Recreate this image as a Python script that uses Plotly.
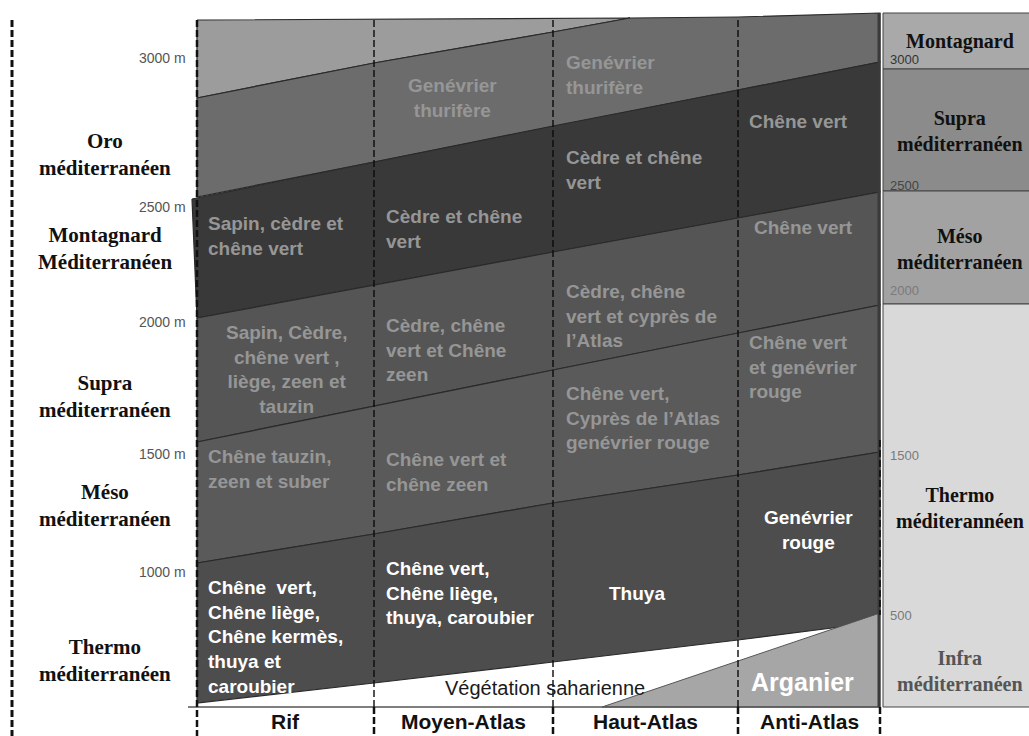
import plotly.graph_objects as go

# ---------------- data ----------------
regions = ["Rif", "Moyen-Atlas", "Haut-Atlas", "Anti-Atlas"]
col_edges = [197, 374, 553, 738, 880]

# belt boundary lines: y at each column edge (diagram units, top = 0)
top_edge = [20, 20, 19, 17, 13]
b_juniper_top = [98, 63, 32]           # top of "Genévrier thurifère" belt (meets top at x=630)
b_juniper_meet_x = 630
b_L2 = [197, 162, 126, 90, 62]
b_L3 = [318, 285, 252, 218, 192]
b_L4 = [442, 406, 370, 333, 305]
b_L5 = [563, 534, 503, 475, 452]
b_L6 = [703, 683, 662, 640]
b_L6_end = (840, 627)
argan_tri_x = [602, 880, 880]
argan_tri_y = [707, 613, 707]
base_y = 707

alt_labels = ["3000 m", "2500 m", "2000 m", "1500 m", "1000 m"]
alt_label_y = [58, 207, 322, 454, 572]

left_zones = ["Oro<br>méditerranéen", "Montagnard<br>Méditerranéen", "Supra<br>méditerranéen",
              "Méso<br>méditerranéen", "Thermo<br>méditerranéen"]
left_zone_y = [154, 248, 396, 505, 660]

right_zones = ["Montagnard", "Supra<br>méditerranéen", "Méso<br>méditerranéen",
               "Thermo<br>méditerannéen", "Infra<br>méditerranéen"]
right_zone_y = [41, 131, 249, 508, 671]
right_zone_colors = ["#111111", "#111111", "#111111", "#111111", "#555555"]
right_band_edges = [13, 69, 191, 304, 707]
right_band_fill = ["#a9a9a9", "#8b8b8b", "#a2a2a2", "#d9d9d9"]
right_nums = ["3000", "2500", "2000", "1500", "500"]
right_num_y = [59, 185, 290, 455, 615]
right_num_colors = ["#333333", "#444444", "#7a7a7a", "#7a7a7a", "#7a7a7a"]

# vegetation cells: text, x, y, anchor, colour key
cells = [
    ("Sapin, cèdre et<br>chêne vert", 206, 236, "left", "g"),
    ("Sapin, Cèdre,<br>chêne vert ,<br>liège, zeen et<br>tauzin", 286, 369, "center", "g"),
    ("Chêne tauzin,<br>zeen et suber", 206, 469, "left", "g"),
    ("Chêne  vert,<br>Chêne liège,<br>Chêne kermès,<br>thuya et<br>caroubier", 206, 637, "left", "w"),
    ("Genévrier<br>thurifère", 452, 98, "center", "g"),
    ("Cèdre et chêne<br>vert", 384, 229, "left", "g"),
    ("Cèdre, chêne<br>vert et Chêne<br>zeen", 384, 350, "left", "g"),
    ("Chêne vert et<br>chêne zeen", 384, 472, "left", "g"),
    ("Chêne vert,<br>Chêne liège,<br>thuya, caroubier", 384, 593, "left", "w"),
    ("Genévrier<br>thurifère", 564, 75, "left", "g"),
    ("Cèdre et chêne<br>vert", 564, 170, "left", "g"),
    ("Cèdre, chêne<br>vert et cyprès de<br>l’Atlas", 564, 316, "left", "g"),
    ("Chêne vert,<br>Cyprès de l’Atlas<br>genévrier rouge", 564, 418, "left", "g"),
    ("Thuya", 637, 593, "center", "w"),
    ("Chêne vert", 747, 121, "left", "g"),
    ("Chêne vert", 752, 227, "left", "g"),
    ("Chêne vert<br>et genévrier<br>rouge", 747, 367, "left", "g"),
    ("Genévrier<br>rouge", 808, 530, "center", "w"),
]

# ---------------- figure ----------------
fig = go.Figure()

SANS = "Liberation Sans, Arial, sans-serif"
SERIF = "Liberation Serif, Times New Roman, serif"
EDGE = "#2a2a2a"


def poly(xs, ys, fill, lw=1.2, lc=EDGE):
    fig.add_trace(go.Scatter(x=xs + [xs[0]], y=ys + [ys[0]], mode="lines", fill="toself",
                             fillcolor=fill, line=dict(color=lc, width=lw),
                             hoverinfo="skip", showlegend=False))


def line(xs, ys, color, width, dash=None):
    fig.add_trace(go.Scatter(x=xs, y=ys, mode="lines",
                             line=dict(color=color, width=width, dash=dash),
                             hoverinfo="skip", showlegend=False))


ce = col_edges
# light top-left triangle
poly([ce[0], b_juniper_meet_x, ce[2], ce[1], ce[0]],
     [top_edge[0], 18, b_juniper_top[2], b_juniper_top[1], b_juniper_top[0]], "#9c9c9c")
# Genévrier thurifère belt
poly([ce[0], ce[1], ce[2], b_juniper_meet_x, ce[3], ce[4], ce[4], ce[3], ce[2], ce[1], ce[0]],
     [b_juniper_top[0], b_juniper_top[1], b_juniper_top[2], 18, top_edge[3], top_edge[4],
      b_L2[4], b_L2[3], b_L2[2], b_L2[1], b_L2[0]], "#6c6c6c")
# dark belt (cèdre / sapin)
poly([192] + ce[1:] + ce[::-1],
     [b_L2[0] + 2] + b_L2[1:] + b_L3[::-1], "#393939")
# belt 3
poly(ce + ce[::-1], b_L3 + b_L4[::-1], "#555555")
# belt 4
poly(ce + ce[::-1], b_L4 + b_L5[::-1], "#5a5a5a")
# belt 5 (thermo)
poly(ce + [ce[4], b_L6_end[0]] + ce[3::-1],
     b_L5 + [argan_tri_y[1], b_L6_end[1]] + b_L6[::-1], "#4d4d4d")
# Arganier
poly(argan_tri_x, argan_tri_y, "#a6a6a6", lw=1, lc="#555555")

# baseline
line([188, ce[4]], [base_y, base_y], "#555555", 1.5)

# right panel
for i, fc in enumerate(right_band_fill):
    poly([883, 1040, 1040, 883], [right_band_edges[i], right_band_edges[i],
                                   right_band_edges[i + 1], right_band_edges[i + 1]],
         fc, lw=1, lc="#444444")
line([879, 879], [13, 707], "#3a3a3a", 3)

# dashed vertical lines
line([12, 12], [20, 736], "#111111", 3, "7px,3px")
line([ce[0], ce[0]], [20, 736], "#111111", 2.5, "7px,3px")
for x in ce[1:4]:
    line([x, x], [20, base_y], "rgba(10,10,10,0.7)", 2, "7px,3px")
    line([x, x], [base_y, 736], "#111111", 2.5, "7px,3px")
line([ce[4], ce[4]], [440, 615], "rgba(10,10,10,0.8)", 2, "7px,3px")
line([ce[4], ce[4]], [base_y, 736], "#111111", 2.5, "7px,3px")

ann = []
# altitude labels
for t, y in zip(alt_labels, alt_label_y):
    ann.append(dict(x=188, y=y, text=t, xanchor="right", yanchor="middle", showarrow=False,
                    font=dict(family=SANS, size=14, color="#555555")))
# left zone labels
for t, y in zip(left_zones, left_zone_y):
    ann.append(dict(x=105, y=y, text="<b>%s</b>" % t, xanchor="center", yanchor="middle",
                    align="center", showarrow=False,
                    font=dict(family=SERIF, size=21, color="#111111")))
# right zone labels
for t, y, c in zip(right_zones, right_zone_y, right_zone_colors):
    ann.append(dict(x=960, y=y, text="<b>%s</b>" % t, xanchor="center", yanchor="middle",
                    align="center", showarrow=False,
                    font=dict(family=SERIF, size=20, color=c)))
for t, y, c in zip(right_nums, right_num_y, right_num_colors):
    ann.append(dict(x=888, y=y, text=t, xanchor="left", yanchor="middle", showarrow=False,
                    font=dict(family=SANS, size=13, color=c)))
# cell labels
for t, x, y, anc, ck in cells:
    ann.append(dict(x=x, y=y, text="<b>%s</b>" % t, xanchor=anc, yanchor="middle", align=anc,
                    showarrow=False,
                    font=dict(family=SANS, size=19, color="#ffffff" if ck == "w" else "#969696")))
ann.append(dict(x=802, y=682, text="<b>Arganier</b>", xanchor="center", yanchor="middle",
                showarrow=False, font=dict(family=SANS, size=25, color="#ffffff")))
ann.append(dict(x=545, y=688, text="Végétation saharienne", xanchor="center", yanchor="middle",
                showarrow=False, font=dict(family=SANS, size=20, color="#1a1a1a")))
# region labels
for i, r in enumerate(regions):
    ann.append(dict(x=(ce[i] + ce[i + 1]) / 2, y=721, text="<b>%s</b>" % r, xanchor="center",
                    yanchor="middle", showarrow=False,
                    font=dict(family=SANS, size=21, color="#111111")))

fig.update_layout(
    width=1029, height=736, margin=dict(l=0, r=0, t=0, b=0),
    paper_bgcolor="white", plot_bgcolor="white",
    xaxis=dict(range=[0, 1029], visible=False, fixedrange=True),
    yaxis=dict(range=[736, 0], visible=False, fixedrange=True),
    annotations=ann, showlegend=False,
)
fig.write_html("out.html", config={"displayModeBar": False},
               post_script="document.body.style.margin='0px';document.body.style.overflow='hidden';")
